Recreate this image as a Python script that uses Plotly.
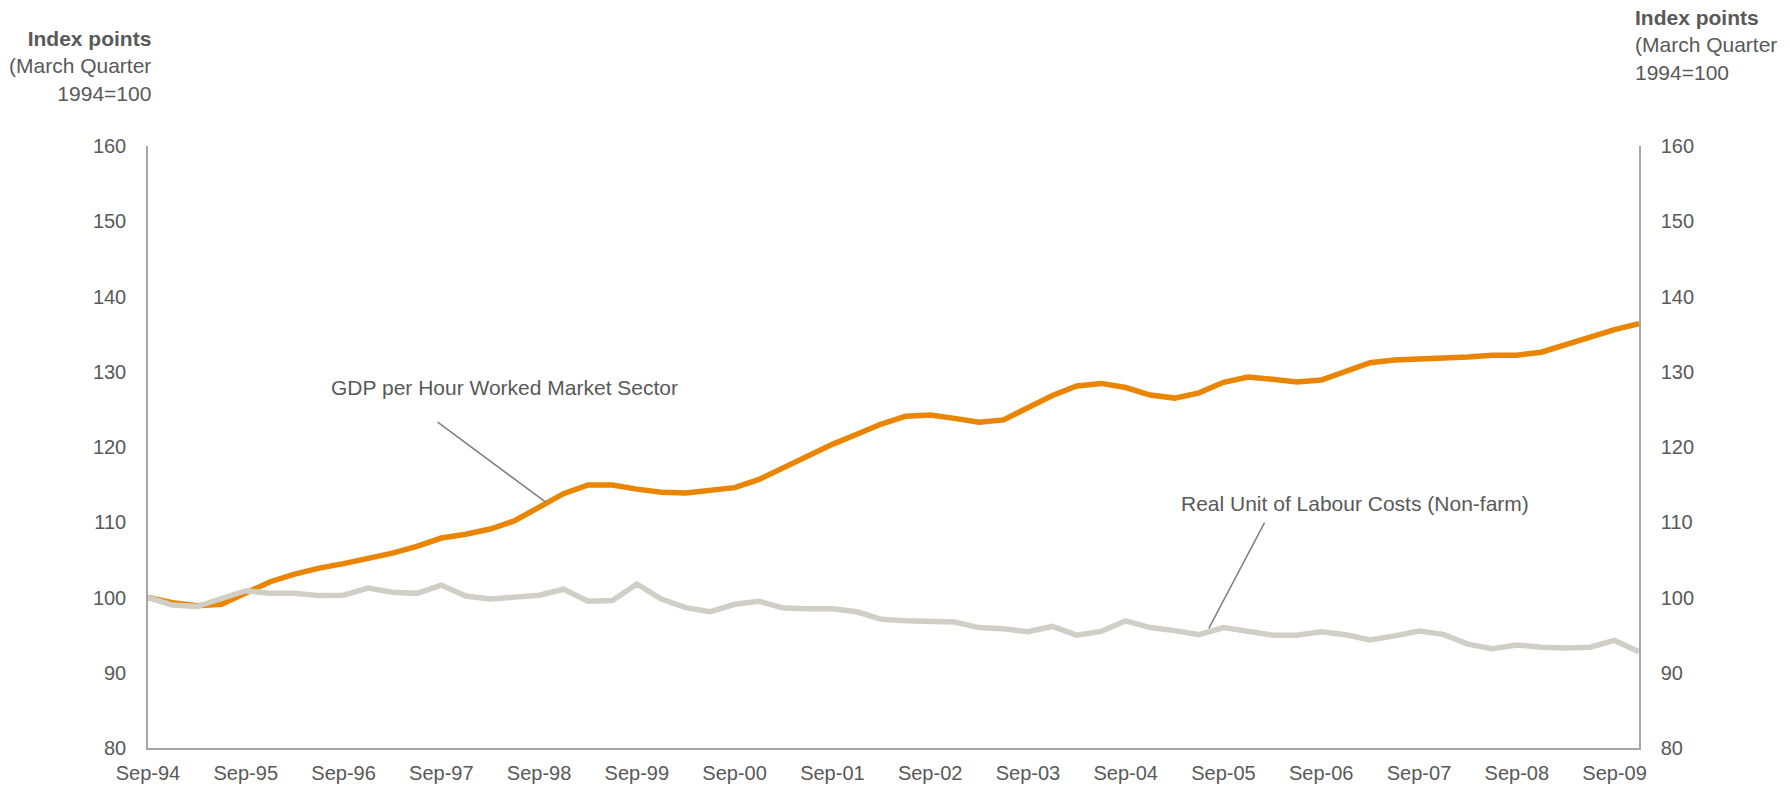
import plotly.graph_objects as go

quarters = [
    "Sep-94", "Dec-94", "Mar-95", "Jun-95", "Sep-95", "Dec-95", "Mar-96", "Jun-96",
    "Sep-96", "Dec-96", "Mar-97", "Jun-97", "Sep-97", "Dec-97", "Mar-98", "Jun-98",
    "Sep-98", "Dec-98", "Mar-99", "Jun-99", "Sep-99", "Dec-99", "Mar-00", "Jun-00",
    "Sep-00", "Dec-00", "Mar-01", "Jun-01", "Sep-01", "Dec-01", "Mar-02", "Jun-02",
    "Sep-02", "Dec-02", "Mar-03", "Jun-03", "Sep-03", "Dec-03", "Mar-04", "Jun-04",
    "Sep-04", "Dec-04", "Mar-05", "Jun-05", "Sep-05", "Dec-05", "Mar-06", "Jun-06",
    "Sep-06", "Dec-06", "Mar-07", "Jun-07", "Sep-07", "Dec-07", "Mar-08", "Jun-08",
    "Sep-08", "Dec-08", "Mar-09", "Jun-09", "Sep-09", "Dec-09",
]

gdp_per_hour = [
    100.0, 99.3, 98.9, 99.1, 100.6, 102.1, 103.1, 103.9,
    104.5, 105.2, 105.9, 106.8, 107.9, 108.4, 109.1, 110.2,
    112.0, 113.8, 114.95, 114.95, 114.4, 114.0, 113.9, 114.2,
    114.6, 115.7, 117.3, 118.85, 120.35, 121.7, 123.05, 124.1,
    124.25, 123.8, 123.3, 123.6, 125.2, 126.85, 128.1, 128.45,
    127.9, 126.9, 126.5, 127.2, 128.6, 129.3, 129.0, 128.65,
    128.9, 130.0, 131.2, 131.55, 131.65, 131.75, 131.95, 132.2,
    132.2, 132.6, 133.6, 134.75, 135.6, 136.4,
]

real_ulc = [
    100.0, 99.0, 98.8, 99.9, 100.9, 100.55, 100.55, 100.25,
    100.3, 101.25, 100.7, 100.55, 101.65, 100.2, 99.8, 100.05,
    100.3, 101.1, 99.5, 99.6, 101.8, 99.8, 98.65, 98.1,
    99.1, 99.5, 98.6, 98.5, 98.5, 98.1, 97.1, 96.9,
    96.75, 96.75, 96.0, 95.85, 95.45, 96.15, 95.0, 95.5,
    96.9, 96.0, 95.6, 95.05, 96.0, 95.55, 95.0, 95.0,
    95.45, 95.05, 94.35, 94.9, 95.55, 95.1, 93.8, 93.2,
    93.7, 93.4, 93.3, 93.4, 94.3, 92.8,
]

series_names = ["GDP per Hour Worked Market Sector", "Real Unit of Labour Costs (Non-farm)"]
tick_labels = [q for q in quarters if q.startswith("Sep")]
y_ticks = [80, 90, 100, 110, 120, 130, 140, 150, 160]

FONT = "Liberation Sans, Arial, sans-serif"
TXT = "#595959"
AX = "#a6a6a6"

fig = go.Figure()
fig.add_trace(go.Scatter(x=quarters, y=gdp_per_hour, mode="lines", name=series_names[0],
                         line=dict(color="#ea8500", width=5.5), yaxis="y"))
fig.add_trace(go.Scatter(x=quarters, y=real_ulc, mode="lines", name=series_names[1],
                         line=dict(color="#d0cec5", width=5.5), yaxis="y2"))

yax = dict(range=[80, 160], tickvals=y_ticks, showgrid=False, zeroline=False,
           showline=True, linecolor=AX, linewidth=1.5, ticks="",
           tickfont=dict(family=FONT, size=20, color=TXT), automargin=False,
           ticklabelstandoff=16)

fig.update_layout(
    width=1790, height=785,
    margin=dict(l=148, r=151, t=146, b=37),
    paper_bgcolor="white", plot_bgcolor="white",
    showlegend=False,
    xaxis=dict(type="category", range=[0, len(quarters) - 1], tickmode="array",
               tickvals=tick_labels, ticktext=tick_labels, showgrid=False,
               zeroline=False, showline=True, linecolor=AX, linewidth=1.5, ticks="",
               tickfont=dict(family=FONT, size=20, color=TXT), automargin=False,
               ticklabelstandoff=6),
    yaxis=dict(side="left", **yax),
    yaxis2=dict(side="right", overlaying="y", **yax),
)

# series labels with leader lines
fig.add_annotation(x=7.4, y=127.97, xref="x", yref="y", text=series_names[0],
                   showarrow=False, xanchor="left", yanchor="middle",
                   font=dict(family=FONT, size=21, color=TXT))
fig.add_annotation(x=42.2, y=112.5, xref="x", yref="y", text=series_names[1],
                   showarrow=False, xanchor="left", yanchor="middle",
                   font=dict(family=FONT, size=21, color=TXT))
fig.add_shape(type="line", xref="x", yref="y", x0=11.85, y0=123.3, x1=16.26, y1=112.7,
              line=dict(color="#7f7f7f", width=1.5))
fig.add_shape(type="line", xref="x", yref="y", x0=45.68, y0=109.94, x1=43.4, y1=95.9,
              line=dict(color="#7f7f7f", width=1.5))

# axis titles
fig.add_annotation(x=0.0032, y=1.1334, xref="paper", yref="paper",
                   text="<b>Index points</b><br>(March Quarter<br>1994=100",
                   showarrow=False, xanchor="right", yanchor="middle", align="right",
                   font=dict(family=FONT, size=21, color=TXT))
fig.add_annotation(x=0.9962, y=1.1676, xref="paper", yref="paper",
                   text="<b>Index points</b><br>(March Quarter<br>1994=100",
                   showarrow=False, xanchor="left", yanchor="middle", align="left",
                   font=dict(family=FONT, size=21, color=TXT))

fig.write_html("out.html",
               config={"displayModeBar": False},
               post_script="document.body.style.margin='0px';document.body.style.overflow='hidden';")
